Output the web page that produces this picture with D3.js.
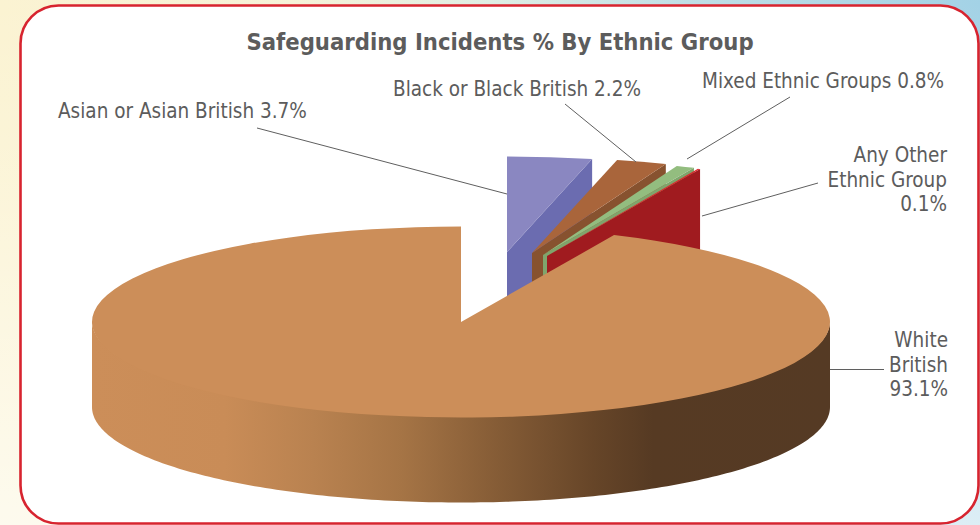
<!DOCTYPE html>
<html>
<head>
<meta charset="utf-8">
<title>Safeguarding Incidents % By Ethnic Group</title>
<script src="https://cdn.jsdelivr.net/npm/d3@7"></script>
<style>
  html, body { margin: 0; padding: 0; background: #fff; }
  svg { display: block; }
  text { font-family: "DejaVu Sans Condensed", "DejaVu Sans", sans-serif; font-stretch: condensed; fill: #5c5c5c; }
</style>
</head>
<body>
<div id="chart"></div>
<script>
// Share of safeguarding incidents per ethnic group, clockwise from twelve o'clock.
const groups = ["Asian or Asian British", "Black or Black British", "Mixed Ethnic Groups", "Any Other Ethnic Group", "White British"];
const shares = [3.7, 2.2, 0.8, 0.1, 93.1];
const titleText = "Safeguarding Incidents % By Ethnic Group";

// Styling per slice, same order as the groups.
const topColors = ["#8a87c1", "#a9653b", "#93bd7f", "#e0242a", "#cc8e59"];
const wallColors = ["#6b6cb0", "#87522f", "#7fa56c", "#a01b1f", "#cc8e59"];

// Pixel layout of the pie: ellipse radii, extrusion depth and where each slice's tip sits.
const W = 980, H = 525;
const rx = 369, ry = 95.5, depth = 85;
const tips = [[507, 252], [532, 253], [543, 255], [547, 256], [461, 322]];

// Label blocks and leader lines.
const labelLayout = [
  { lines: ["Asian or Asian British 3.7%"], x: 58, y: 118, anchor: "start", leader: [[507, 194], [257, 128]] },
  { lines: ["Black or Black British 2.2%"], x: 393, y: 96, anchor: "start", leader: [[636, 162], [565, 104]] },
  { lines: ["Mixed Ethnic Groups 0.8%"], x: 702, y: 88, anchor: "start", leader: [[687, 159], [790, 97]] },
  { lines: ["Any Other", "Ethnic Group", "0.1%"], x: 947, y: 162, anchor: "end", leader: [[702, 216], [818, 183]] },
  { lines: ["White", "British", "93.1%"], x: 948, y: 347, anchor: "end", leader: [[830, 369.5], [884, 369.5]] }
];
const lineHeight = 24.5;

const svg = d3.select("#chart").append("svg").attr("width", W).attr("height", H);
const defs = svg.append("defs");

function gradient(id, attrs, stops) {
  const g = defs.append("linearGradient").attr("id", id).attr("gradientUnits", "userSpaceOnUse");
  Object.entries(attrs).forEach(([k, v]) => g.attr(k, v));
  stops.forEach(s => g.append("stop").attr("offset", s[0]).attr("stop-color", s[1]).attr("stop-opacity", s[2] === undefined ? 1 : s[2]));
}

gradient("pageTint", { x1: 0, x2: W, y1: 0, y2: 0 }, [[0, "#fbf3d2"], [0.3, "#f6f2d8"], [0.5, "#dfeee4"], [0.7, "#c0dfe6"], [1, "#a3d2e6"]]);
gradient("pageFade", { x1: 0, x2: 0, y1: 0, y2: H }, [[0, "#ffffff", 0], [0.25, "#ffffff", 0.1], [1, "#ffffff", 0.62]]);
gradient("rimShade", { x1: 92, x2: 830, y1: 0, y2: 0 }, [
  [0, "#cc8e59"], [0.18, "#c98c57"], [0.3, "#b98250"], [0.42, "#a57445"],
  [0.55, "#855c36"], [0.68, "#664528"], [0.76, "#563a23"], [1, "#553a24"]
]);

// Page backdrop and the rounded white panel.
svg.append("rect").attr("width", W).attr("height", H).attr("fill", "url(#pageTint)");
svg.append("rect").attr("width", W).attr("height", H).attr("fill", "url(#pageFade)");
svg.append("rect")
  .attr("x", 20.5).attr("y", 5.5).attr("width", 958).attr("height", 518)
  .attr("rx", 38).attr("ry", 38)
  .attr("fill", "#fff").attr("stroke", "#d7242f").attr("stroke-width", 2.6);

svg.append("text")
  .attr("x", 500).attr("y", 50).attr("text-anchor", "middle")
  .attr("font-size", 23.6).attr("font-weight", "bold")
  .text(titleText);

const slices = d3.pie().sort(null).value(d => d).startAngle(0).endAngle(2 * Math.PI)(shares);

// Point on the flattened pie for a clockwise angle measured from twelve o'clock.
const sx = d3.scaleLinear().domain([-1, 1]).range([-rx, rx]);
const sy = d3.scaleLinear().domain([-1, 1]).range([-ry, ry]);
const edge = a => [sx(Math.sin(a)), sy(-Math.cos(a))];

const poly = d3.line();
const topFace = d3.arc().innerRadius(0).outerRadius(rx);
const pie3d = svg.append("g");

// Small exploded slices: the cut wall first, then the top face.
slices.slice(0, 4).forEach((s, i) => {
  const [tx, ty] = tips[i];
  const [ex, ey] = edge(s.endAngle);
  pie3d.append("path")
    .attr("d", poly([[tx, ty], [tx + ex, ty + ey], [tx + ex, ty + ey + depth], [tx, ty + depth]]) + "Z")
    .attr("fill", wallColors[i]);
  pie3d.append("path")
    .attr("transform", `translate(${tx},${ty}) scale(1,${ry / rx})`)
    .attr("d", topFace(s))
    .attr("fill", topColors[i]);
});

// Main slice: the front rim runs from three o'clock round to nine o'clock,
// starting a pixel high so it tucks under the top face without a seam.
const main = slices[4];
const [mx, my] = tips[4];
const frontAngles = d3.range(Math.PI / 2, 3 * Math.PI / 2 + 0.001, Math.PI / 180);
const rim = d3.area()
  .x(a => mx + edge(a)[0])
  .y0(a => my + edge(a)[1] - 1)
  .y1(a => my + edge(a)[1] + depth);
pie3d.append("path").attr("d", rim(frontAngles)).attr("fill", "url(#rimShade)");
pie3d.append("path")
  .attr("transform", `translate(${mx},${my}) scale(1,${ry / rx})`)
  .attr("d", topFace(main))
  .attr("fill", topColors[4]);

// Leader lines and labels.
const labels = svg.append("g");
labelLayout.forEach(l => {
  labels.append("path").attr("d", poly(l.leader)).attr("fill", "none")
    .attr("stroke", "#5f5f5f").attr("stroke-width", 1);
  const t = labels.append("text").attr("text-anchor", l.anchor).attr("font-size", 20.5);
  l.lines.forEach((line, k) => {
    t.append("tspan").attr("x", l.x).attr("y", l.y + k * lineHeight).text(line);
  });
});
</script>
</body>
</html>
